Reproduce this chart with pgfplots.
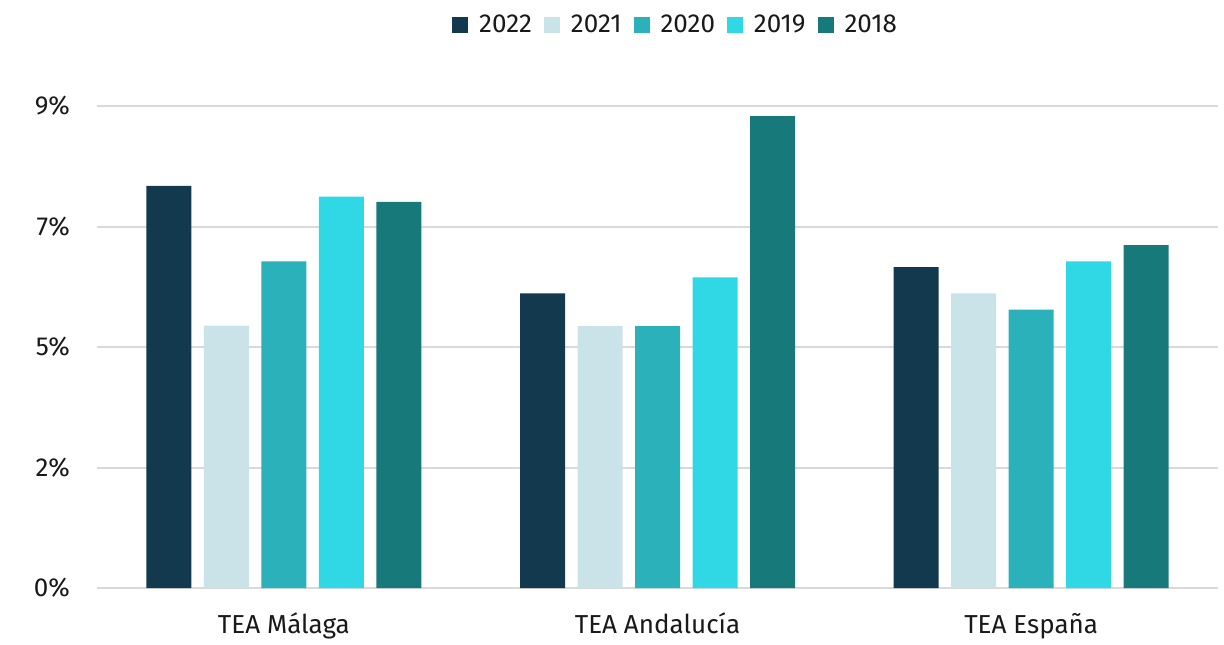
\documentclass[border=0pt]{standalone}
\usepackage{pgfplots}
\pgfplotsset{compat=1.18}
\usepackage{fontspec}
\setmainfont{Fira Sans}
\definecolor{c2022}{HTML}{13394E}
\definecolor{c2021}{HTML}{C9E3E8}
\definecolor{c2020}{HTML}{2AB1BA}
\definecolor{c2019}{HTML}{30D8E6}
\definecolor{c2018}{HTML}{18797B}
\definecolor{gridc}{HTML}{D9D9D9}
\begin{document}
\begin{tikzpicture}
\useasboundingbox (-48.5pt,-28pt) rectangle (563.5pt,294pt);
\begin{axis}[
  at={(0,0)}, anchor=south west,
  scale only axis,
  width=560.5pt, height=241pt,
  ybar=6.25pt, bar width=22.5pt,
  xmin=-0.5, xmax=2.5,
  ymin=0, ymax=9,
  xtick={0,1,2},
  xticklabels={TEA Málaga,TEA Andalucía,TEA España},
  ytick={0,2.25,4.5,6.75,9},
  yticklabels={0\%,2\%,5\%,7\%,9\%},
  axis line style={draw=none},
  major tick length=0pt,
  ymajorgrids,
  grid style={gridc, line width=1pt},
  tick label style={font=\fontsize{13}{15}\selectfont, text=black!90},
  yticklabel style={xshift=-10pt},
  xticklabel style={yshift=-9pt},
  legend style={at={(0.517,1.168)}, anchor=center, draw=none,
    font=\fontsize{13}{15}\selectfont, text=black!90,
    legend columns=5, column sep=3.5pt,
    /tikz/every even column/.append style={column sep=4pt}},
  legend image code/.code={\fill[#1] (0pt,-4pt) rectangle (8pt,4pt);},
  clip=false,
]
\addplot[fill=c2022, draw=none] coordinates {(0,7.51) (1,5.50) (2,5.99)};
\addplot[fill=c2021, draw=none] coordinates {(0,4.90) (1,4.89) (2,5.50)};
\addplot[fill=c2020, draw=none] coordinates {(0,6.10) (1,4.89) (2,5.20)};
\addplot[fill=c2019, draw=none] coordinates {(0,7.31) (1,5.80) (2,6.10)};
\addplot[fill=c2018, draw=none] coordinates {(0,7.21) (1,8.81) (2,6.40)};
\legend{2022,2021,2020,2019,2018}
\end{axis}
\end{tikzpicture}
\end{document}
